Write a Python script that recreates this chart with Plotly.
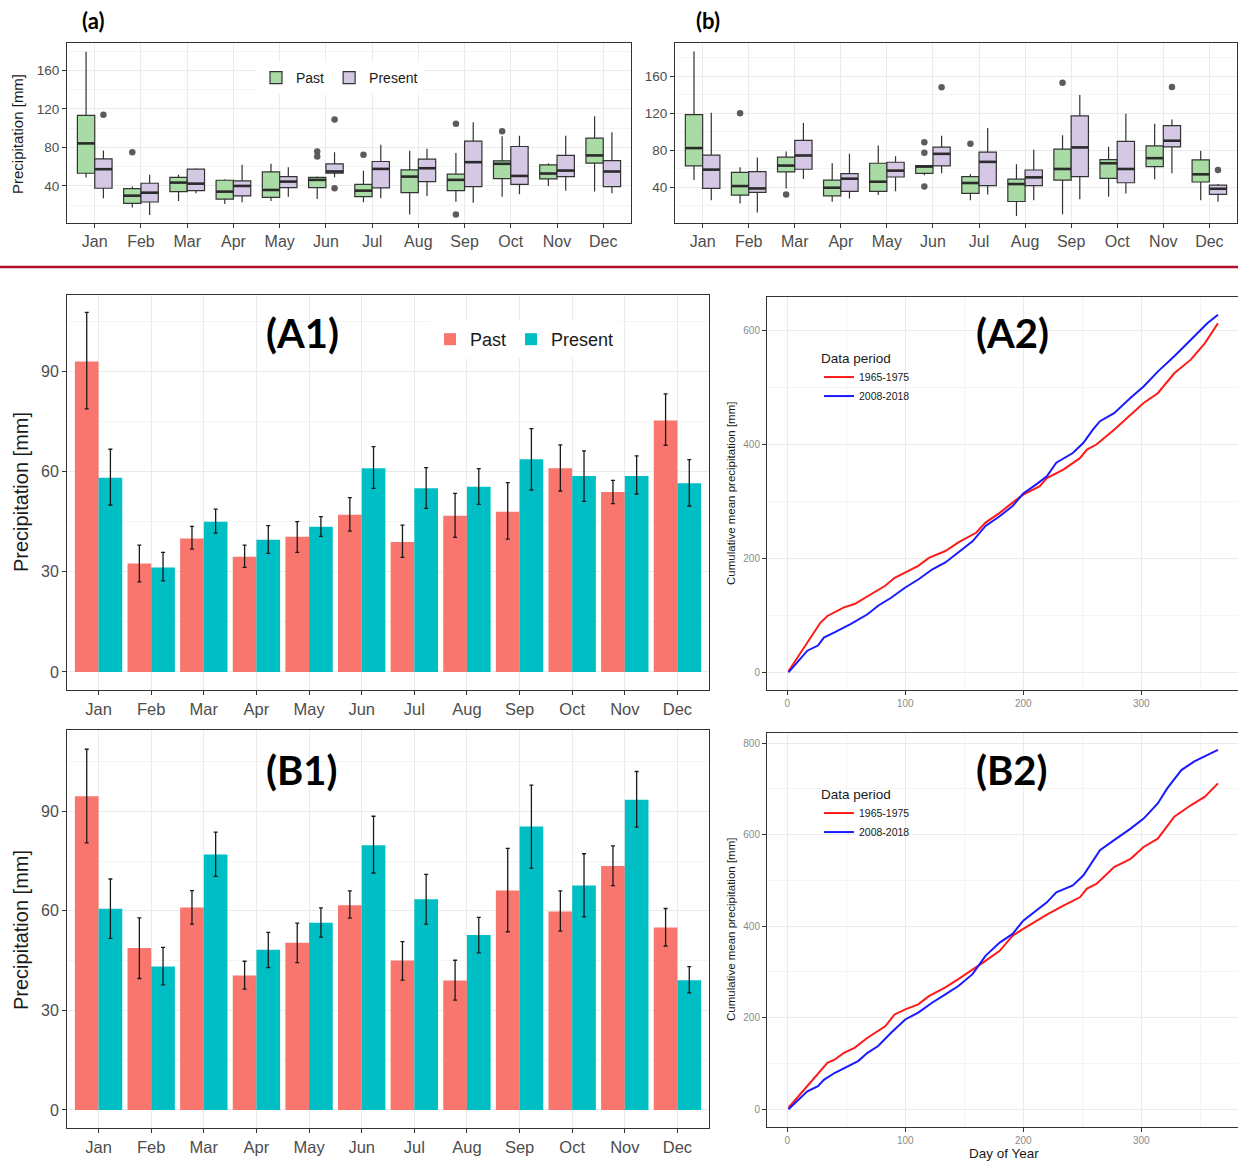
import plotly.graph_objects as go

W, H = 1238, 1167
months = ["Jan", "Feb", "Mar", "Apr", "May", "Jun", "Jul", "Aug", "Sep", "Oct", "Nov", "Dec"]

# ---------------- (a) boxplot statistics ----------------
a_past_q1 = [53.2, 21.9, 34.1, 26.4, 28.2, 38.3, 28.9, 33.0, 35.1, 47.7, 47.3, 63.7]
a_past_med = [84.2, 29.9, 43.5, 34.1, 35.8, 46.3, 35.1, 49.7, 46.3, 63.0, 52.9, 71.7]
a_past_q3 = [113.4, 37.2, 49.0, 45.9, 54.6, 49.0, 41.7, 56.7, 52.2, 66.1, 61.9, 89.7]
a_past_lo = [48.7, 17.7, 24.3, 21.2, 24.3, 26.4, 23.0, 10.4, 23.7, 28.9, 40.0, 34.1]
a_past_hi = [179.5, 39.3, 51.5, 47.0, 63.0, 49.7, 55.7, 76.5, 74.1, 91.5, 63.7, 112.3]
a_past_out_m = ["Feb", "Jun", "Jun", "Jul", "Sep", "Sep", "Oct"]
a_past_out_v = [75.1, 75.8, 70.6, 72.3, 104.7, 10.4, 96.7]

a_pres_q1 = [37.6, 23.3, 35.1, 29.6, 38.3, 53.2, 37.9, 44.5, 39.3, 41.7, 49.7, 39.3]
a_pres_med = [57.4, 33.0, 42.4, 40.0, 44.5, 55.0, 57.7, 58.4, 64.7, 50.4, 56.0, 55.0]
a_pres_q3 = [68.2, 42.8, 57.4, 45.2, 49.7, 63.0, 65.4, 67.8, 86.6, 81.0, 71.7, 66.4]
a_pres_lo = [27.1, 9.7, 32.3, 23.0, 28.9, 49.0, 27.1, 29.6, 22.6, 31.3, 35.1, 32.3]
a_pres_hi = [76.9, 51.5, 58.4, 61.9, 59.5, 75.1, 82.8, 78.6, 106.1, 92.2, 92.2, 95.7]
a_pres_out_m = ["Jan", "Jun", "Jun"]
a_pres_out_v = [114.0, 108.9, 37.6]

# ---------------- (b) boxplot statistics ----------------
b_past_q1 = [62.9, 31.3, 56.4, 30.5, 35.3, 54.9, 33.1, 24.4, 47.6, 49.5, 62.2, 45.5]
b_past_med = [82.2, 41.1, 63.3, 39.3, 45.8, 62.2, 44.4, 43.3, 59.6, 65.8, 71.3, 53.8]
b_past_q3 = [118.5, 56.0, 72.4, 47.6, 65.8, 63.3, 51.3, 48.7, 81.1, 69.8, 84.7, 69.5]
b_past_lo = [47.6, 22.2, 38.5, 24.0, 31.3, 52.7, 25.8, 8.7, 10.5, 29.5, 48.4, 25.8]
b_past_hi = [186.9, 61.5, 78.5, 65.8, 85.1, 64.0, 54.2, 64.7, 96.0, 83.6, 108.7, 79.3]
b_past_out_m = ["Feb", "Mar", "Jun", "Jun", "Jun", "Jul", "Sep"]
b_past_out_v = [120.0, 32.0, 88.4, 77.1, 40.7, 86.9, 153.0]

b_pres_q1 = [38.5, 34.2, 59.3, 35.3, 50.9, 62.9, 41.5, 41.5, 51.3, 44.7, 83.6, 32.0]
b_pres_med = [58.9, 38.5, 74.2, 49.1, 57.8, 76.0, 67.3, 50.5, 82.9, 59.6, 90.2, 38.2]
b_pres_q3 = [74.5, 56.7, 90.5, 54.5, 66.9, 83.3, 77.8, 58.5, 117.1, 89.5, 106.5, 42.2]
b_pres_lo = [25.8, 12.4, 48.7, 27.6, 35.6, 54.9, 32.0, 25.8, 26.9, 33.1, 54.9, 24.0]
b_pres_hi = [120.4, 72.0, 109.5, 76.0, 73.5, 95.6, 104.0, 80.4, 139.6, 119.3, 113.1, 43.3]
b_pres_out_m = ["Jun", "Nov", "Dec"]
b_pres_out_v = [148.0, 148.4, 58.5]

# ---------------- (A1) bar means and error limits ----------------
a1_past = [93.0, 32.5, 40.0, 34.5, 40.5, 47.1, 38.9, 46.8, 48.0, 61.0, 53.9, 75.3]
a1_past_hi = [107.7, 38.0, 43.6, 38.0, 45.0, 52.2, 44.0, 53.5, 56.7, 68.0, 57.4, 83.3]
a1_past_lo = [78.8, 27.0, 36.8, 31.3, 35.8, 42.2, 34.3, 40.3, 39.8, 54.2, 50.4, 67.9]
a1_pres = [58.2, 31.3, 45.0, 39.6, 43.5, 61.0, 55.0, 55.5, 63.7, 58.7, 58.7, 56.5]
a1_pres_hi = [66.7, 35.8, 48.8, 43.8, 46.5, 67.5, 61.2, 60.9, 72.9, 66.2, 64.7, 63.6]
a1_pres_lo = [50.0, 27.3, 41.6, 35.5, 40.6, 55.0, 49.0, 50.2, 54.5, 51.1, 53.3, 49.7]

# ---------------- (B1) bar means and error limits ----------------
b1_past = [94.5, 48.8, 61.0, 40.5, 50.4, 61.7, 45.0, 39.0, 66.1, 59.8, 73.5, 55.0]
b1_past_hi = [108.7, 57.9, 66.1, 44.8, 56.3, 66.0, 50.7, 45.1, 78.8, 66.0, 79.6, 60.7]
b1_past_lo = [80.5, 39.6, 56.0, 36.4, 44.4, 57.8, 39.1, 33.1, 53.7, 53.9, 67.6, 49.4]
b1_pres = [60.6, 43.2, 77.0, 48.3, 56.4, 79.8, 63.5, 52.7, 85.4, 67.6, 93.5, 39.1]
b1_pres_hi = [69.6, 49.0, 83.7, 53.5, 60.9, 88.5, 71.0, 58.0, 97.9, 77.2, 102.0, 43.2]
b1_pres_lo = [51.7, 37.7, 70.4, 42.9, 52.1, 71.4, 56.0, 47.3, 72.9, 58.2, 85.2, 35.3]

# ---------------- (A2) cumulative curves ----------------
a2_red_day = [1, 17, 28, 34, 40, 48, 57, 68, 83, 91, 100, 111, 120, 134, 145, 160, 168, 180, 191,
              200, 214, 220, 234, 248, 254, 262, 277, 291, 302, 314, 328, 342, 354, 365]
a2_red_val = [2, 52, 87, 99, 105, 114, 120, 134, 152, 166, 175, 187, 201, 213, 228, 245, 263, 280, 298,
              312, 327, 341, 356, 376, 391, 400, 426, 452, 473, 490, 525, 549, 578, 613]
a2_blue_day = [1, 17, 26, 31, 40, 54, 68, 77, 88, 100, 111, 123, 134, 145, 157, 168, 180, 191, 200,
               211, 220, 228, 242, 251, 259, 265, 277, 291, 302, 314, 328, 345, 356, 365]
a2_blue_val = [0, 38, 47, 61, 70, 85, 102, 117, 131, 149, 163, 181, 193, 210, 230, 257, 274, 292, 314,
               330, 344, 368, 385, 403, 426, 441, 455, 482, 502, 528, 555, 590, 613, 628]

# ---------------- (B2) cumulative curves ----------------
b2_red_day = [1, 17, 28, 34, 40, 48, 57, 68, 83, 91, 100, 111, 120, 134, 145, 160, 168, 180, 191,
              200, 214, 220, 234, 248, 254, 262, 277, 291, 302, 314, 328, 342, 354, 365]
b2_red_val = [3, 50, 83, 101, 108, 123, 134, 156, 181, 207, 218, 229, 247, 266, 284, 309, 324, 346, 379,
              394, 416, 425, 445, 463, 482, 492, 529, 547, 573, 591, 639, 664, 683, 712]
b2_blue_day = [1, 17, 26, 31, 40, 54, 60, 68, 77, 88, 100, 111, 123, 134, 145, 157, 168, 180, 191, 200,
               211, 220, 228, 242, 251, 259, 265, 277, 291, 302, 314, 322, 334, 345, 356, 365]
b2_blue_val = [0, 39, 50, 64, 79, 97, 105, 123, 138, 167, 196, 211, 233, 251, 269, 295, 335, 364, 383, 412,
               434, 452, 474, 489, 511, 544, 566, 588, 613, 635, 668, 701, 741, 760, 774, 785]

# ---------------- styling ----------------
GREEN = "#a8dca4"
PURPLE = "#d4c8e4"
RED_BAR = "#F8766D"
CYAN_BAR = "#00BFC4"
FONT = "Liberation Sans, Arial, sans-serif"
TITLE_FONT = "Lato, Open Sans, sans-serif"


def fx(px):
    return px / W


def fy(py):
    return 1 - py / H


fig = go.Figure()

# ---- box panels ----
pos = list(range(1, 13))
BW = 0.375


def add_boxes(xa, ya, stats_past, stats_pres, outs_past, outs_pres, show_legend):
    for name, color, (q1, med, q3, lo, hi), (om, ov), off in [
        ("Past", GREEN, stats_past, outs_past, -BW / 2),
        ("Present", PURPLE, stats_pres, outs_pres, BW / 2),
    ]:
        xs = [p + off for p in pos]
        fig.add_trace(go.Box(
            x=xs, q1=q1, median=med, q3=q3, lowerfence=lo, upperfence=hi,
            width=BW, fillcolor=color, line=dict(color="#333333", width=1.2),
            whiskerwidth=0, boxpoints=False, name=name, xaxis=xa, yaxis=ya,
            showlegend=show_legend, legend="legend", hoverinfo="skip"))
        mx, my = [], []
        for x, m in zip(xs, med):
            mx += [x - BW / 2, x + BW / 2, None]
            my += [m, m, None]
        fig.add_trace(go.Scatter(x=mx, y=my, mode="lines", line=dict(color="#2b2b2b", width=2.6),
                                 xaxis=xa, yaxis=ya, showlegend=False, hoverinfo="skip"))
        ox = [months.index(m) + 1 + off for m in om]
        fig.add_trace(go.Scatter(x=ox, y=ov, mode="markers",
                                 marker=dict(color="#5c5c5c", size=6.5),
                                 xaxis=xa, yaxis=ya, showlegend=False, hoverinfo="skip"))


add_boxes("x", "y",
          (a_past_q1, a_past_med, a_past_q3, a_past_lo, a_past_hi),
          (a_pres_q1, a_pres_med, a_pres_q3, a_pres_lo, a_pres_hi),
          (a_past_out_m, a_past_out_v), (a_pres_out_m, a_pres_out_v), True)
add_boxes("x2", "y2",
          (b_past_q1, b_past_med, b_past_q3, b_past_lo, b_past_hi),
          (b_pres_q1, b_pres_med, b_pres_q3, b_pres_lo, b_pres_hi),
          (b_past_out_m, b_past_out_v), (b_pres_out_m, b_pres_out_v), False)

# ---- bar panels ----
ERR = dict(color="#1a1a1a", thickness=1.3, width=2)


def add_bars(xa, ya, past, plo, phi, pres, rlo, rhi, show_legend):
    fig.add_trace(go.Bar(
        x=months, y=past, name="Past", marker=dict(color=RED_BAR, line=dict(width=0)),
        error_y=dict(type="data", symmetric=False,
                     array=[h - v for h, v in zip(phi, past)],
                     arrayminus=[v - l for l, v in zip(plo, past)], **ERR),
        xaxis=xa, yaxis=ya, showlegend=show_legend, legend="legend2", offsetgroup="p"))
    fig.add_trace(go.Bar(
        x=months, y=pres, name="Present", marker=dict(color=CYAN_BAR, line=dict(width=0)),
        error_y=dict(type="data", symmetric=False,
                     array=[h - v for h, v in zip(rhi, pres)],
                     arrayminus=[v - l for l, v in zip(rlo, pres)], **ERR),
        xaxis=xa, yaxis=ya, showlegend=show_legend, legend="legend2", offsetgroup="q"))


add_bars("x3", "y3", a1_past, a1_past_lo, a1_past_hi, a1_pres, a1_pres_lo, a1_pres_hi, True)
add_bars("x5", "y5", b1_past, b1_past_lo, b1_past_hi, b1_pres, b1_pres_lo, b1_pres_hi, False)

# ---- cumulative panels ----
for xa, ya, lg, rd, rv, bd, bv in [
    ("x4", "y4", "legend3", a2_red_day, a2_red_val, a2_blue_day, a2_blue_val),
    ("x6", "y6", "legend4", b2_red_day, b2_red_val, b2_blue_day, b2_blue_val),
]:
    fig.add_trace(go.Scatter(x=rd, y=rv, mode="lines", name="1965-1975",
                             line=dict(color="#ff1a1a", width=2), xaxis=xa, yaxis=ya, legend=lg))
    fig.add_trace(go.Scatter(x=bd, y=bv, mode="lines", name="2008-2018",
                             line=dict(color="#1a1aff", width=2), xaxis=xa, yaxis=ya, legend=lg))


# ---------------- axes ----------------
def base_axis(size, color="#4d4d4d"):
    return dict(showline=True, mirror=True, linecolor="#333333", linewidth=1,
                ticks="outside", ticklen=4, tickcolor="#333333", tickwidth=1,
                showgrid=True, gridcolor="#ebebeb", gridwidth=1.2, zeroline=False,
                tickfont=dict(family=FONT, size=size, color=color), fixedrange=True)


def dom_x(l, r):
    return [max(fx(l), 0.0), min(fx(r), 1.0)]


def dom_y(t, b):
    return [fy(b), fy(t)]


layout_axes = {}
# (a)
layout_axes["xaxis"] = dict(base_axis(16), domain=dom_x(67, 631), anchor="y", range=[0.4, 12.6],
                            tickvals=pos, ticktext=months)
layout_axes["yaxis"] = dict(base_axis(13.5), domain=dom_y(43, 223), anchor="x", range=[1.5, 188.5],
                            tickvals=[40, 80, 120, 160],
                            minor=dict(tickvals=[20, 60, 100, 140, 180], showgrid=True,
                                       gridcolor="#f4f4f4", ticklen=0))
# (b)
layout_axes["xaxis2"] = dict(base_axis(16), domain=dom_x(675, 1237), anchor="y2", range=[0.4, 12.6],
                             tickvals=pos, ticktext=months)
layout_axes["yaxis2"] = dict(base_axis(13.5), domain=dom_y(43, 223), anchor="x2", range=[1.1, 196],
                             tickvals=[40, 80, 120, 160],
                             minor=dict(tickvals=[20, 60, 100, 140, 180], showgrid=True,
                                        gridcolor="#f4f4f4", ticklen=0))
# (A1)
layout_axes["xaxis3"] = dict(base_axis(16.5), domain=dom_x(67, 709), anchor="y3", range=[-0.6, 11.6],
                             type="category")
layout_axes["yaxis3"] = dict(base_axis(16), domain=dom_y(295, 690), anchor="x3", range=[-5.4, 112.9],
                             tickvals=[0, 30, 60, 90],
                             minor=dict(tickvals=[15, 45, 75, 105], showgrid=True,
                                        gridcolor="#f4f4f4", ticklen=0))
# (B1)
layout_axes["xaxis5"] = dict(base_axis(16.5), domain=dom_x(67, 709), anchor="y5", range=[-0.6, 11.6],
                             type="category")
layout_axes["yaxis5"] = dict(base_axis(16), domain=dom_y(730, 1128), anchor="x5", range=[-5.45, 114.5],
                             tickvals=[0, 30, 60, 90],
                             minor=dict(tickvals=[15, 45, 75, 105], showgrid=True,
                                        gridcolor="#f4f4f4", ticklen=0))
# (A2)
layout_axes["xaxis4"] = dict(base_axis(10, "#8a8a8a"), domain=dom_x(767, 1240), anchor="y4",
                             range=[-17.2, 382], tickvals=[0, 100, 200, 300],
                             minor=dict(tickvals=[50, 150, 250, 350], showgrid=True,
                                        gridcolor="#f4f4f4", ticklen=0))
layout_axes["yaxis4"] = dict(base_axis(10, "#8a8a8a"), domain=dom_y(297, 690), anchor="x4",
                             range=[-31, 659], tickvals=[0, 200, 400, 600],
                             minor=dict(tickvals=[100, 300, 500], showgrid=True,
                                        gridcolor="#f4f4f4", ticklen=0))
# (B2)
layout_axes["xaxis6"] = dict(base_axis(10, "#8a8a8a"), domain=dom_x(767, 1240), anchor="y6",
                             range=[-17.2, 382], tickvals=[0, 100, 200, 300],
                             minor=dict(tickvals=[50, 150, 250, 350], showgrid=True,
                                        gridcolor="#f4f4f4", ticklen=0))
layout_axes["yaxis6"] = dict(base_axis(10, "#8a8a8a"), domain=dom_y(733, 1127), anchor="x6",
                             range=[-39, 822], tickvals=[0, 200, 400, 600, 800],
                             minor=dict(tickvals=[100, 300, 500, 700], showgrid=True,
                                        gridcolor="#f4f4f4", ticklen=0))

# ---------------- annotations ----------------
ann = []


def text(x, y, s, size, bold=False, angle=0, family=FONT, color="#1a1a1a", xanchor="center"):
    ann.append(dict(x=fx(x), y=fy(y), xref="paper", yref="paper", showarrow=False,
                    text=f"<b>{s}</b>" if bold else s, textangle=angle, xanchor=xanchor,
                    yanchor="middle", font=dict(family=family, size=size, color=color)))


text(93, 21, "(a)", 22, bold=True, family=TITLE_FONT, color="#000000")
text(708, 21, "(b)", 22, bold=True, family=TITLE_FONT, color="#000000")
text(302, 333, "(A1)", 40, bold=True, family=TITLE_FONT, color="#000000")
text(302, 770, "(B1)", 40, bold=True, family=TITLE_FONT, color="#000000")
text(1012, 333, "(A2)", 40, bold=True, family=TITLE_FONT, color="#000000")
text(1012, 770, "(B2)", 40, bold=True, family=TITLE_FONT, color="#000000")
text(18, 134, "Precipitation [mm]", 15, angle=-90)
text(21, 492, "Precipitation [mm]", 20, angle=-90)
text(21, 930, "Precipitation [mm]", 20, angle=-90)
text(731, 494, "Cumulative mean precipitation [mm]", 11.5, angle=-90)
text(731, 930, "Cumulative mean precipitation [mm]", 11.5, angle=-90)
text(1004, 1153, "Day of Year", 13.5)

fig.update_layout(
    width=W, height=H, margin=dict(l=0, r=0, t=0, b=0),
    paper_bgcolor="white", plot_bgcolor="white",
    boxmode="overlay", barmode="group", bargap=0.1, bargroupgap=0,
    font=dict(family=FONT, color="#1a1a1a"),
    annotations=ann,
    shapes=[dict(type="line", xref="paper", yref="paper", x0=0, x1=1, y0=fy(267), y1=fy(267),
                 line=dict(color="#b0102e", width=2.5))],
    legend=dict(x=fx(256), y=fy(62), xanchor="left", yanchor="top", orientation="h",
                bgcolor="white", font=dict(size=14, family=FONT, color="#1a1a1a"),
                itemwidth=30, traceorder="normal"),
    legend2=dict(x=fx(430), y=fy(321), xanchor="left", yanchor="top", orientation="h",
                 bgcolor="white", font=dict(size=18, family=FONT, color="#1a1a1a"),
                 traceorder="normal"),
    legend3=dict(x=fx(819), y=fy(345), xanchor="left", yanchor="top",
                 bgcolor="rgba(255,255,255,0)", font=dict(size=10.5, family=FONT, color="#1a1a1a"),
                 title=dict(text="Data period", font=dict(size=13.5, family=FONT)),
                 tracegroupgap=0, traceorder="normal"),
    legend4=dict(x=fx(819), y=fy(781), xanchor="left", yanchor="top",
                 bgcolor="rgba(255,255,255,0)", font=dict(size=10.5, family=FONT, color="#1a1a1a"),
                 title=dict(text="Data period", font=dict(size=13.5, family=FONT)),
                 tracegroupgap=0, traceorder="normal"),
    **layout_axes,
)

# remove the browser's default 8px page margin so the figure fills the window exactly
fig.write_html("out.html",
               config={"displayModeBar": False},
               post_script="document.body.style.margin='0';document.body.style.overflow='hidden';")
